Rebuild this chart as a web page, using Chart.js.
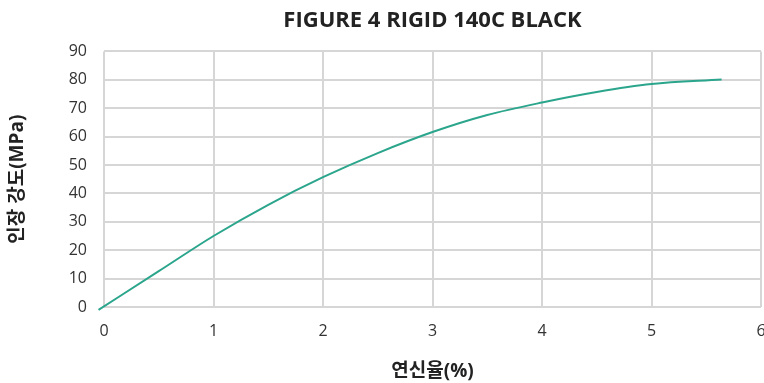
<!DOCTYPE html>
<html lang="ko">
<head>
    <meta charset="UTF-8" />
    <title>Figure 4 Rigid 140C Black</title>
    <script src="https://cdn.jsdelivr.net/npm/chart.js"></script>
    <style>
        html, body {
            margin: 0;
            padding: 0;
            background: #fff;
            overflow: hidden;
        }
        .wrap {
            width: 764px;
            height: 383px;
        }
    </style>
</head>
<body>
    <div class="wrap"><canvas id="chart"></canvas></div>

    <script>
        // 연신율(%) / 인장 강도(MPa)
        const elongation = [-0.05, 0.5, 1, 1.5, 2, 2.5, 3, 3.5, 4, 4.5, 5, 5.64];
        const strength   = [-1.0, 12.6, 25.0, 36.0, 45.7, 54.2, 61.6, 67.6, 72.0, 75.7, 78.5, 80.1];

        const chartTitle = "FIGURE 4 RIGID 140C BLACK";
        const xTitle = "연신율(%)";
        const yTitle = "인장 강도(MPa)";

        const fontFamily = "'Open Sans', 'Noto Sans CJK KR', sans-serif";
        const points = elongation.map((x, i) => ({ x: x, y: strength[i] }));

        new Chart(document.getElementById("chart"), {
            type: "line",
            data: {
                datasets: [{
                    data: points,
                    borderColor: "#2ba58c",
                    borderWidth: 2,
                    pointRadius: 0,
                    fill: false,
                    clip: false,
                    cubicInterpolationMode: "monotone"
                }]
            },
            options: {
                responsive: true,
                maintainAspectRatio: false,
                animation: false,
                layout: { padding: 0 },
                plugins: {
                    legend: { display: false },
                    tooltip: { enabled: false },
                    title: {
                        display: true,
                        fullSize: false,
                        text: chartTitle,
                        color: "#222",
                        font: { family: fontFamily, size: 22, weight: "bold" },
                        padding: { top: 8, bottom: 17 }
                    }
                },
                scales: {
                    x: {
                        type: "linear",
                        min: 0,
                        max: 6,
                        afterFit: s => {
                            s.height = 76;
                            s.paddingRight = 3;
                        },
                        ticks: {
                            stepSize: 1,
                            padding: 15,
                            color: "#333",
                            font: { family: fontFamily, size: 16 }
                        },
                        grid: { color: "#d6d6d6", lineWidth: 2, drawTicks: false },
                        border: { display: false },
                        title: {
                            display: true,
                            text: xTitle,
                            color: "#222",
                            font: { family: fontFamily, size: 19, weight: "bold" },
                            padding: 0
                        }
                    },
                    y: {
                        min: 0,
                        max: 90,
                        afterFit: s => { s.width = 104; },
                        ticks: {
                            stepSize: 10,
                            padding: 17,
                            color: "#333",
                            font: { family: fontFamily, size: 16 }
                        },
                        grid: { color: "#d6d6d6", lineWidth: 2, drawTicks: false },
                        border: { display: false },
                        title: {
                            display: true,
                            text: yTitle,
                            color: "#222",
                            font: { family: fontFamily, size: 19, weight: "bold" },
                            padding: { top: 6 }
                        }
                    }
                }
            }
        });
    </script>
</body>
</html>
